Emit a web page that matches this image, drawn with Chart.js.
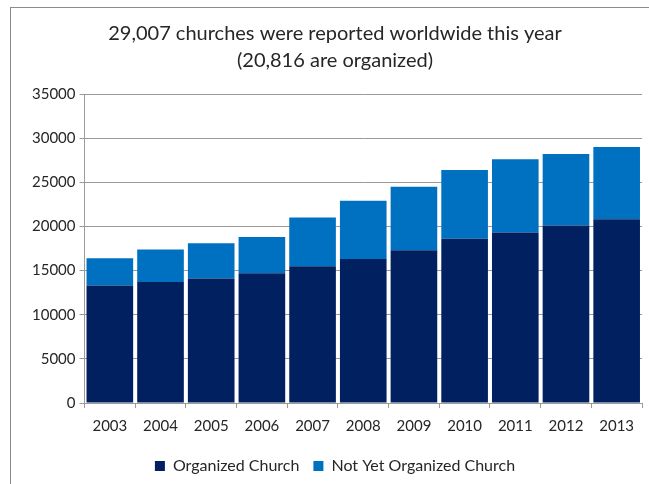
<!DOCTYPE html>
<html>
<head>
<meta charset="utf-8">
<script src="https://cdn.jsdelivr.net/npm/chart.js@4"></script>
<style>
  html, body { margin: 0; padding: 0; background: #fff; overflow: hidden; }
  #marco {
    position: absolute; left: 10px; top: 7px; width: 700px; height: 600px;
    border: 1px solid #8c8c8c; box-sizing: border-box;
  }
  #caja { position: absolute; left: 0; top: 0; width: 649px; height: 484px; }
</style>
</head>
<body>
<div id="marco"></div>
<div id="caja"><canvas id="grafico"></canvas></div>
<script>
// datos
const anios = ['2003', '2004', '2005', '2006', '2007', '2008', '2009', '2010', '2011', '2012', '2013']
const organizadas = [13300, 13700, 14100, 14700, 15500, 16300, 17300, 18600, 19300, 20100, 20816]
const noOrganizadas = [3100, 3700, 4000, 4100, 5500, 6600, 7200, 7800, 8300, 8100, 8191]
const tituloLineas = ['29,007 churches were reported worldwide this year', '(20,816 are organized)']

const fuente = 'Lato, "Open Sans", sans-serif'
const colorTexto = '#262626'
const colorGris = '#9a9a9a'

const ctx = document.getElementById('grafico')

const data = {
    labels: anios,
    datasets: [
        {
            label: 'Organized Church',
            data: organizadas,
            backgroundColor: '#002060'
        },
        {
            label: 'Not Yet Organized Church',
            data: noOrganizadas,
            backgroundColor: '#0070C0'
        }
    ]
}

const config = {
    type: 'bar',
    data: data,
    options: {
        responsive: false,
        animation: false,
        devicePixelRatio: 1,
        layout: {
            padding: { left: 28, right: 7, top: 10, bottom: 0 }
        },
        datasets: {
            bar: {
                categoryPercentage: 1,
                barPercentage: 0.92,
                borderWidth: 0
            }
        },
        plugins: {
            legend: {
                position: 'bottom',
                labels: {
                    boxWidth: 10,
                    boxHeight: 10,
                    padding: 14,
                    color: colorTexto,
                    font: { family: fuente, size: 16 }
                }
            },
            title: {
                display: true,
                text: tituloLineas,
                color: colorTexto,
                font: { family: fuente, size: 20, weight: 'normal', lineHeight: 1.35 },
                padding: { top: 10, bottom: 20 }
            },
            tooltip: { enabled: false }
        },
        scales: {
            x: {
                stacked: true,
                grid: {
                    drawOnChartArea: false,
                    drawTicks: true,
                    tickLength: 5,
                    color: colorGris
                },
                border: { color: colorGris },
                ticks: {
                    padding: 9,
                    color: colorTexto,
                    font: { family: fuente, size: 15 }
                }
            },
            y: {
                stacked: true,
                min: 0,
                max: 35000,
                grid: {
                    color: colorGris,
                    tickLength: 5
                },
                border: { color: colorGris },
                ticks: {
                    stepSize: 5000,
                    padding: 4,
                    color: colorTexto,
                    font: { family: fuente, size: 15 },
                    callback: (valor) => String(valor)
                }
            }
        }
    }
}

ctx.width = 649
ctx.height = 484
new Chart(ctx, config)
</script>
</body>
</html>
